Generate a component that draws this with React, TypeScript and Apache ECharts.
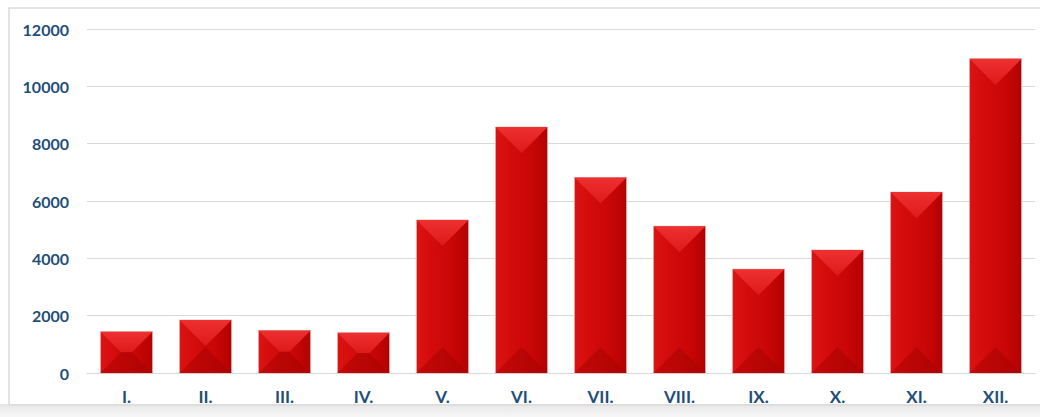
import React, { useEffect, useRef } from "react";
import * as echarts from "echarts";

const categories = ["I.", "II.", "III.", "IV.", "V.", "VI.", "VII.", "VIII.", "IX.", "X.", "XI.", "XII."];
const values = [1440, 1850, 1480, 1400, 5340, 8580, 6820, 5120, 3620, 4290, 6310, 10960];
const yTicks = { min: 0, max: 12000, interval: 2000 };

const labelColor = "#1F4E79";

function renderBar(params: any, api: any) {
  const idx = api.value(0);
  const val = api.value(1);
  const top = api.coord([idx, val]);
  const base = api.coord([idx, 0]);
  const bw = api.size([1, 0])[0] * 0.66;
  const x0 = top[0] - bw / 2;
  const x1 = top[0] + bw / 2;
  const y0 = top[1];
  const y1 = base[1];
  const h = y1 - y0;
  const d = Math.min(bw / 2, h / 2);
  const body = new echarts.graphic.LinearGradient(0, 0, 1, 0, [
    { offset: 0, color: "#DC1313" },
    { offset: 0.3, color: "#D30B0B" },
    { offset: 0.7, color: "#C90606" },
    { offset: 1, color: "#B20202" },
  ]);
  return {
    type: "group",
    children: [
      {
        type: "rect",
        shape: { x: x0, y: y0, width: bw, height: h },
        style: { fill: body, stroke: "#D8B8B8", lineWidth: 0.8 },
      },
      {
        type: "polygon",
        shape: { points: [[x0, y0], [x1, y0], [x1 - d, y0 + d], [x0 + d, y0 + d]] },
        style: {
          fill: new echarts.graphic.LinearGradient(0, 0, 0, 1, [
            { offset: 0, color: "#EE3030" },
            { offset: 1, color: "#DE1A1A" },
          ]),
        },
      },
      {
        type: "polygon",
        shape: { points: [[x0, y1], [x1, y1], [x1 - d, y1 - d], [x0 + d, y1 - d]] },
        style: {
          fill: new echarts.graphic.LinearGradient(0, 0, 1, 0, [
            { offset: 0, color: "#C40808" },
            { offset: 1, color: "#AE0202" },
          ]),
        },
      },
    ],
  };
}

export default function App() {
  const ref = useRef<HTMLDivElement>(null);
  useEffect(() => {
    if (!ref.current) return;
    const chart = echarts.init(ref.current, null, { renderer: "svg" });
    chart.setOption({
      animation: false,
      backgroundColor: "#FFFFFF",
      graphic: [
        {
          type: "rect",
          left: 0,
          top: 404,
          shape: { width: 1040, height: 13 },
          style: {
            fill: new echarts.graphic.LinearGradient(0, 0, 0, 1, [
              { offset: 0, color: "#E6E6E6" },
              { offset: 1, color: "#F7F7F7" },
            ]),
          },
          z: -1,
        },
        {
          type: "rect",
          shape: { x: 9, y: 8, width: 1040, height: 397 },
          style: { fill: "transparent", stroke: "#DADADA", lineWidth: 1.5 },
          z: -1,
        },
      ],
      grid: { left: 87, right: 5, top: 29, bottom: 44 },
      xAxis: {
        type: "category",
        data: categories,
        axisLine: { show: true, lineStyle: { color: "#D9D9D9", width: 1 } },
        axisTick: { show: false },
        axisLabel: {
          color: labelColor,
          fontFamily: "Lato",
          fontWeight: "bold",
          fontSize: 17,
          margin: 15,
        },
      },
      yAxis: {
        type: "value",
        min: yTicks.min,
        max: yTicks.max,
        interval: yTicks.interval,
        axisLine: { show: false },
        axisTick: { show: false },
        splitLine: { lineStyle: { color: "#D9D9D9", width: 1 } },
        axisLabel: {
          color: labelColor,
          fontFamily: "Lato",
          fontWeight: "bold",
          fontSize: 16,
          margin: 18,
          formatter: (v: number) => String(v),
        },
      },
      series: [
        {
          type: "custom",
          renderItem: renderBar,
          encode: { x: 0, y: 1 },
          data: values.map((v, i) => [i, v]),
        },
      ],
    });
    return () => chart.dispose();
  }, []);
  return (
    <div
      ref={ref}
      style={{ position: "fixed", left: 0, top: 0, width: 1040, height: 417 }}
    />
  );
}
